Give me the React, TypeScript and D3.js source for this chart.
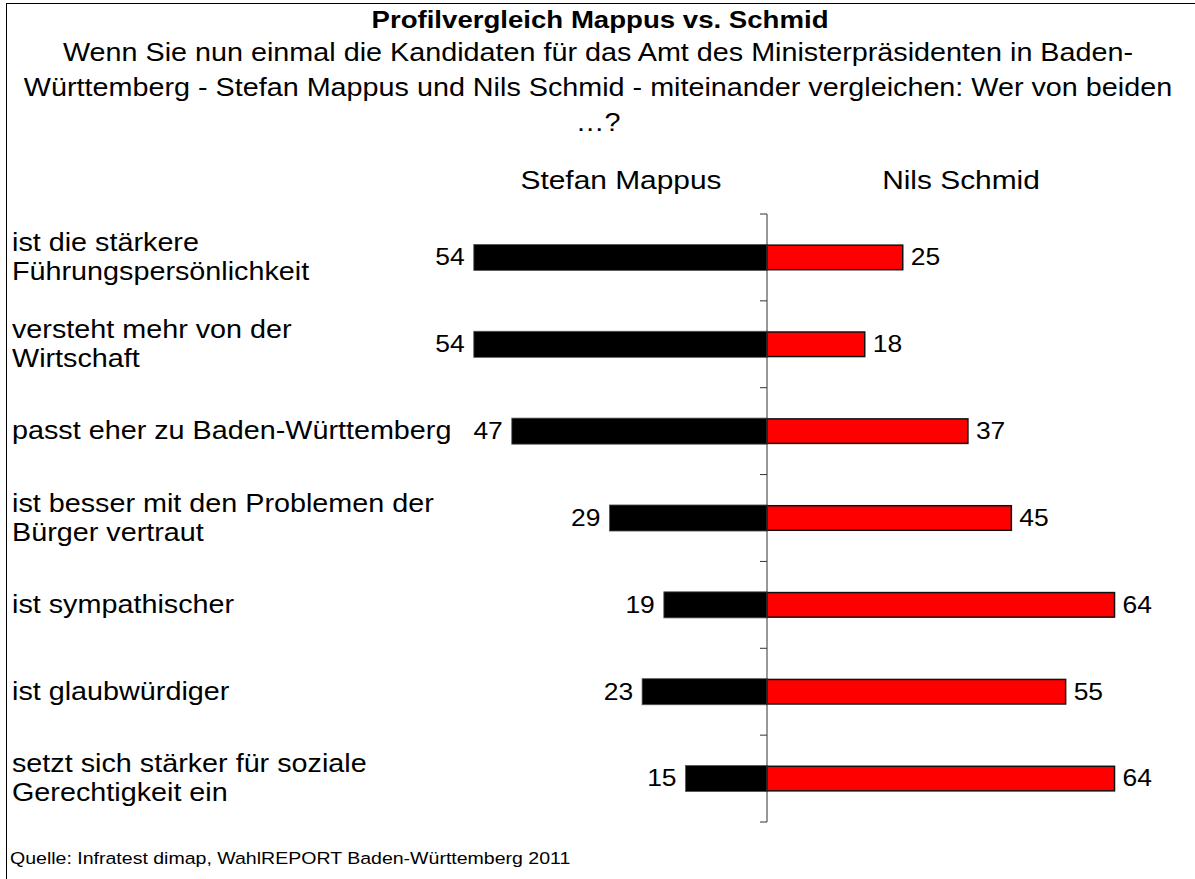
import React from "react";
import * as d3 from "d3";

const title = "Profilvergleich Mappus vs. Schmid";
const subtitleLines = [
  "Wenn Sie nun einmal die Kandidaten für das Amt des Ministerpräsidenten in Baden-",
  "Württemberg - Stefan Mappus und Nils Schmid - miteinander vergleichen: Wer von beiden",
  "…?",
];
const seriesNames = ["Stefan Mappus", "Nils Schmid"];
const categories = [
  ["ist die stärkere", "Führungspersönlichkeit"],
  ["versteht mehr von der", "Wirtschaft"],
  ["passt eher zu Baden-Württemberg"],
  ["ist besser mit den Problemen der", "Bürger vertraut"],
  ["ist sympathischer"],
  ["ist glaubwürdiger"],
  ["setzt sich stärker für soziale", "Gerechtigkeit ein"],
];
const mappus = [54, 54, 47, 29, 19, 23, 15];
const schmid = [25, 18, 37, 45, 64, 55, 64];
const source = "Quelle: Infratest dimap, WahlREPORT Baden-Württemberg 2011";

const W = 1195;
const H = 879;
const FONT = "'Liberation Sans', Arial, sans-serif";
const SX = 1.15;

function T(props: {
  x: number; y: number; size: number; anchor?: "start" | "middle" | "end";
  bold?: boolean; central?: boolean; children: React.ReactNode;
}) {
  const { x, y, size, anchor = "start", bold, central, children } = props;
  return (
    <g transform={`translate(${x},${y}) scale(${SX},1)`}>
      <text x={0} y={0} textAnchor={anchor} fontSize={size} fontWeight={bold ? "bold" : "normal"}
        dominantBaseline={central ? "central" : undefined}>{children}</text>
    </g>
  );
}

export default function App() {
  const cx = 767;
  const ids = categories.map((_, i) => String(i));
  const y = d3.scaleBand<string>().domain(ids).range([214, 822]).paddingInner(0.7).paddingOuter(0.35);
  const x = d3.scaleLinear().domain([0, 100]).range([0, 543]);
  const step = y.step();
  const bw = y.bandwidth();
  const tickYs = ids.map((id) => (y(id) as number) - (step - bw) / 2).concat([822]);

  return (
    <svg width={W} height={H} style={{ position: "absolute", left: 0, top: 0, background: "#fff" }} fontFamily={FONT}>
      <rect x={6.5} y={3.5} width={W + 10} height={H + 10} fill="#fff" stroke="#000" strokeWidth={1} />
      <T x={600} y={28} size={24} anchor="middle" bold>{title}</T>
      {subtitleLines.map((l, i) => (
        <T key={i} x={598} y={61 + i * 35} size={25} anchor="middle">{l}</T>
      ))}
      <T x={621} y={189} size={26} anchor="middle">{seriesNames[0]}</T>
      <T x={961} y={189} size={26} anchor="middle">{seriesNames[1]}</T>

      {categories.map((lines, i) => {
        const yc = (y(ids[i]) as number) + bw / 2;
        const n = lines.length;
        return (
          <g key={i}>
            {lines.map((l, j) => (
              <T key={j} x={12} y={yc + (j - (n - 1) / 2) * 29} size={25} central>{l}</T>
            ))}
            <rect x={cx - x(mappus[i])} y={y(ids[i])} width={x(mappus[i])} height={bw} fill="#000" stroke="#555" strokeWidth={0.8} />
            <rect x={cx} y={(y(ids[i]) as number) + 0.75} width={x(schmid[i])} height={bw - 1.5} fill="#ff0000" stroke="#111" strokeWidth={1.5} />
            <T x={cx - x(mappus[i]) - 9} y={yc} size={23} anchor="end" central>{mappus[i]}</T>
            <T x={cx + x(schmid[i]) + 8} y={yc} size={23} central>{schmid[i]}</T>
          </g>
        );
      })}

      <line x1={cx} x2={cx} y1={214} y2={822} stroke="#333" strokeWidth={1} />
      {tickYs.map((t, i) => (
        <line key={i} x1={cx - 7} x2={cx} y1={t} y2={t} stroke="#333" strokeWidth={1} />
      ))}

      <T x={10} y={864} size={17}>{source}</T>
    </svg>
  );
}
